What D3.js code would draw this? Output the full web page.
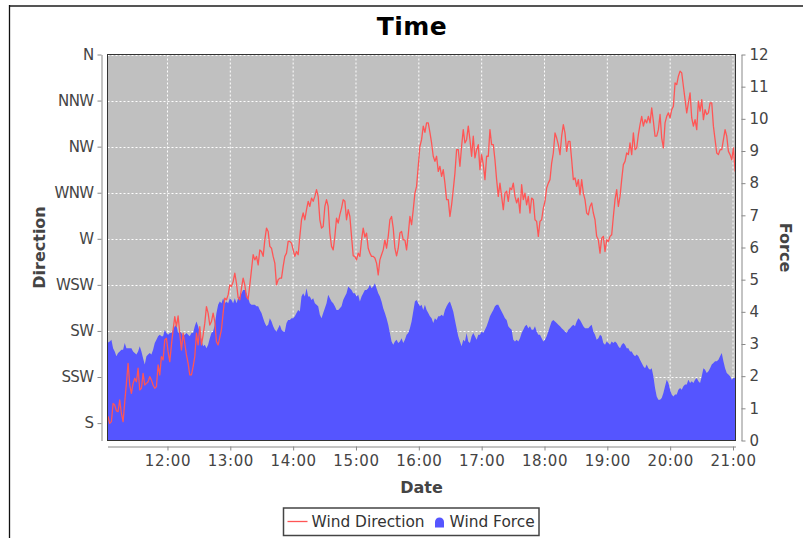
<!DOCTYPE html>
<html>
<head>
<meta charset="utf-8">
<script src="https://cdn.jsdelivr.net/npm/d3@7"></script>
<style>
  html, body { margin: 0; padding: 0; background: #ffffff; }
  svg { display: block; font-family: "DejaVu Sans", sans-serif; }
</style>
</head>
<body>
<svg id="chart" width="803" height="538"></svg>
<script>
// ---------------- data ----------------
const chartTitle = "Time";
const seriesNames = ["Wind Direction", "Wind Force"];
const sampleStart = "2024-01-01T11:01:41";   // first reading
const sampleStepSeconds = 95.54;              // one reading every ~1.6 minutes

// wind direction, degrees (S = 180, N = 360)
const windDirection = [
  183.1,183.1,179.9,180.7,189.6,188.8,186.0,185.6,191.3,184.7,
  180.7,190.4,199.4,209.2,198.6,194.5,199.4,201.9,200.2,206.8,
  196.2,197.0,204.3,198.6,199.4,200.2,202.7,201.0,198.6,197.0,
  197.8,208.4,203.5,212.5,210.8,220.6,221.4,214.9,210.0,218.2,
  225.5,232.0,227.1,232.3,223.9,215.7,223.9,219.0,213.3,209.2,
  203.5,203.5,207.6,212.5,223.9,218.2,227.1,218.2,223.0,228.8,
  236.9,233.7,227.9,229.6,233.7,229.6,219.8,218.2,221.9,225.8,
  233.7,241.0,240.2,242.6,247.5,246.7,249.1,253.2,248.3,241.3,
  240.2,245.9,250.8,247.5,241.8,240.5,247.5,254.8,262.2,259.7,
  261.4,257.3,264.6,263.8,261.4,269.5,275.2,273.6,266.3,265.4,
  261.4,258.1,247.5,250.0,250.8,250.8,256.5,261.4,263.0,268.7,
  268.7,267.9,264.6,261.4,263.8,262.2,
  271.2,279.3,282.6,279.3,284.2,288.3,285.8,289.9,288.3,290.7,
  294.0,290.7,279.3,275.2,276.0,285.8,289.1,285.8,272.8,266.3,
  264.6,271.2,280.1,277.7,281.8,285.0,289.1,288.3,279.3,284.2,
  280.9,271.2,261.7,261.4,259.7,263.0,261.4,269.5,275.2,270.8,
  272.8,265.4,263.0,261.4,261.4,260.6,258.1,252.4,259.7,262.2,
  264.6,269.5,265.4,271.2,279.3,280.9,275.2,265.4,261.7,265.4,
  272.8,273.6,269.5,269.5,264.6,272.0,280.9,276.9,284.2,292.3,
  295.6,305.4,315.2,318.4,325.0,322.0,326.6,326.6,322.0,316.8,
  310.3,307.8,310.3,302.9,305.4,300.5,303.8,297.2,289.1,289.1,
  280.9,286.6,294.0,302.1,313.5,313.5,305.4,315.2,323.3,316.8,
  318.4,325.0,318.4,310.3,320.1,309.5,313.5,316.0,303.8,311.1,
  306.2,298.9,310.3,310.3,323.3,316.0,316.0,308.6,298.9,290.7,
  297.2,290.7,284.2,292.3,293.2,288.3,294.8,294.0,297.2,290.7,
  287.5,289.9,282.6,296.4,289.1,292.3,286.6,290.7,282.6,289.9,
  289.1,279.3,278.5,271.2,278.5,279.3,285.0,288.3,294.8,297.2,
  298.9,307.0,311.9,321.7,319.2,316.0,311.1,320.1,325.8,321.7,
  312.7,317.6,317.6,308.6,298.9,299.7,295.6,298.9,291.5,298.9,
  292.3,289.1,282.6,281.7,285.8,287.5,282.6,279.3,271.2,269.5,
  263.0,270.3,271.2,263.8,269.5,268.7,271.2,272.0,280.9,289.1,
  294.0,285.8,290.7,298.9,306.2,307.8,311.9,311.1,316.8,311.1,
  321.7,313.5,314.4,320.9,325.8,329.8,325.0,328.2,326.6,329.8,
  326.6,333.9,327.4,320.1,320.1,323.3,330.7,319.2,314.4,326.6,
  329.8,331.5,329.0,333.1,334.7,346.1,345.3,349.4,351.9,351.0,
  344.5,338.0,331.5,336.4,341.3,329.0,325.0,328.2,323.3,337.2,
  332.3,338.0,328.2,333.1,330.7,331.5,336.4,336.4,325.0,318.4,
  311.9,311.1,313.5,313.5,318.4,323.3,320.1,312.7,311.1,308.6,
  314.4,302.9
];

// wind force (Beaufort)
const windForce = [
  2.98,3.05,3.08,3.13,2.87,2.77,2.62,2.72,2.77,2.82,
  2.82,3.03,2.87,2.87,2.87,2.87,2.77,2.72,2.67,2.77,
  2.93,2.77,2.56,2.36,2.62,2.67,2.72,2.67,2.82,3.03,
  3.13,3.24,3.29,3.24,3.24,3.44,3.34,3.29,3.34,3.34,
  3.44,3.55,3.60,3.34,3.39,3.34,3.24,3.29,3.34,3.29,
  3.24,3.34,3.34,3.55,3.70,3.55,3.34,3.13,2.93,2.98,
  2.87,2.98,3.18,3.34,3.39,3.60,3.96,4.22,4.32,4.27,
  4.42,4.27,4.32,4.27,4.42,4.37,4.27,4.42,4.27,4.42,
  4.48,4.58,4.68,4.68,4.58,4.42,4.27,4.22,4.22,4.22,
  4.17,4.17,4.06,3.96,3.80,3.65,3.55,3.60,3.80,3.70,
  3.55,3.44,3.39,3.49,3.60,3.44,3.39,3.39,3.65,3.75,
  3.75,3.80,3.80,3.86,3.96,4.06,
  4.01,4.48,4.58,4.48,4.73,4.48,4.48,4.37,4.42,4.27,
  4.22,4.17,3.91,3.80,3.96,4.11,4.27,4.53,4.42,4.32,
  4.27,4.17,4.06,4.06,4.11,4.17,4.37,4.48,4.58,4.79,
  4.73,4.68,4.58,4.58,4.48,4.53,4.32,4.48,4.58,4.68,
  4.68,4.73,4.84,4.73,4.79,4.89,4.73,4.58,4.48,4.32,
  4.11,3.96,3.80,3.60,3.34,3.08,2.98,3.08,3.13,3.03,
  3.08,3.18,3.03,3.13,3.29,3.34,3.49,3.70,4.01,4.32,
  4.37,4.27,4.17,4.22,4.06,4.22,4.06,3.96,3.86,3.80,
  3.65,3.80,3.75,3.86,3.86,3.91,3.86,4.06,4.17,4.27,
  4.32,4.17,4.01,3.75,3.49,3.24,3.08,2.93,3.13,3.08,
  3.34,3.08,3.03,3.24,3.34,3.24,3.13,3.29,3.29,3.39,
  3.34,3.44,3.55,3.70,3.86,3.96,4.06,4.17,4.22,4.22,
  4.11,4.01,3.91,3.80,3.75,3.55,3.49,3.44,3.13,3.08,
  3.13,3.08,3.18,3.34,3.44,3.55,3.60,3.49,3.55,3.44,
  3.44,3.55,3.39,3.29,3.29,3.18,3.08,3.13,3.24,3.39,
  3.55,3.70,3.75,3.70,3.65,3.60,3.55,3.49,3.44,3.39,
  3.34,3.44,3.49,3.55,3.60,3.55,3.70,3.80,3.75,3.65,
  3.55,3.49,3.49,3.49,3.55,3.60,3.39,3.29,3.13,3.18,
  3.29,3.24,3.03,2.98,3.08,3.03,2.98,3.08,3.03,3.08,
  3.03,2.93,2.87,2.98,3.03,2.98,2.87,2.87,2.77,2.77,
  2.67,2.62,2.67,2.62,2.51,2.41,2.31,2.25,2.36,2.25,
  2.20,2.25,2.00,1.63,1.37,1.27,1.27,1.32,1.48,1.69,
  1.89,1.79,1.58,1.43,1.37,1.43,1.43,1.58,1.63,1.58,
  1.69,1.74,1.74,1.89,1.79,1.84,1.79,1.89,1.94,1.84,
  1.79,2.00,2.25,2.20,2.10,2.15,2.25,2.36,2.41,2.46,
  2.46,2.51,2.62,2.72,2.46,2.25,2.10,2.05,2.00,1.89,
  1.94,1.94
];

const directionTickValues = [180, 202.5, 225, 247.5, 270, 292.5, 315, 337.5, 360];
const directionTickLabels = ["S", "SSW", "SW", "WSW", "W", "WNW", "NW", "NNW", "N"];
const forceTickValues = [0,1,2,3,4,5,6,7,8,9,10,11,12];
const directionDomain = [171.5, 360];
const forceDomain = [0, 12];
const timeDomain = ["2024-01-01T11:02:44", "2024-01-01T21:02:23"];

// ---------------- layout ----------------
const W = 803, H = 538;
const plot = { left: 107.5, right: 735.5, top: 54.5, bottom: 440.5 };
const colors = {
  plotBg: "#c0c0c0", grid: "#ffffff", area: "#5555ff", line: "#ff5555",
  axis: "#888888", tickText: "#444444", label: "#444444"
};

const parse = s => new Date(s);
const t0 = parse(sampleStart).getTime();
const data = windDirection.map((d, i) => ({
  t: new Date(t0 + i * sampleStepSeconds * 1000),
  dir: d,
  force: windForce[i]
}));

const svg = d3.select("#chart");

const x = d3.scaleTime().domain(timeDomain.map(parse)).range([plot.left, plot.right]);
const yDir = d3.scaleLinear().domain(directionDomain).range([plot.bottom, plot.top]);
const yForce = d3.scaleLinear().domain(forceDomain).range([plot.bottom, plot.top]);

// outer frame (partial, as in the reference)
svg.append("line").attr("x1", 9).attr("x2", W).attr("y1", 6).attr("y2", 6)
  .attr("stroke", "#555").attr("stroke-width", 2);
svg.append("line").attr("x1", 9.5).attr("x2", 9.5).attr("y1", 5).attr("y2", H)
  .attr("stroke", "#111").attr("stroke-width", 1.3);

// title
svg.append("text").attr("x", 412).attr("y", 35).attr("text-anchor", "middle")
  .attr("font-size", 25).attr("font-weight", "bold").attr("fill", "#000")
  .attr("letter-spacing", 0.5)
  .text(chartTitle);

// plot background
svg.append("rect").attr("x", plot.left).attr("y", plot.top)
  .attr("width", plot.right - plot.left).attr("height", plot.bottom - plot.top)
  .attr("fill", colors.plotBg);

svg.append("clipPath").attr("id", "clip").append("rect")
  .attr("x", plot.left).attr("y", plot.top)
  .attr("width", plot.right - plot.left).attr("height", plot.bottom - plot.top);

const hourTicks = x.ticks(d3.timeHour.every(1));

// gridlines
const grid = svg.append("g").attr("clip-path", "url(#clip)");
grid.selectAll("line.v").data(hourTicks).join("line")
  .attr("x1", d => x(d)).attr("x2", d => x(d))
  .attr("y1", plot.top).attr("y2", plot.bottom)
  .attr("stroke", colors.grid).attr("stroke-width", 1).attr("stroke-dasharray", "2,2");
grid.selectAll("line.h").data(directionTickValues).join("line")
  .attr("x1", plot.left).attr("x2", plot.right)
  .attr("y1", d => Math.round(yDir(d)) + 0.5).attr("y2", d => Math.round(yDir(d)) + 0.5)
  .attr("stroke", colors.grid).attr("stroke-width", 1).attr("stroke-dasharray", "2,2");

// series
const series = svg.append("g").attr("clip-path", "url(#clip)");
series.append("path").datum(data)
  .attr("fill", colors.area)
  .attr("d", d3.area().x(d => x(d.t)).y0(yForce(0)).y1(d => yForce(d.force)));
series.append("path").datum(data)
  .attr("fill", "none").attr("stroke", colors.line).attr("stroke-width", 1.3)
  .attr("stroke-linejoin", "round")
  .attr("d", d3.line().x(d => x(d.t)).y(d => yDir(d.dir)));

// plot outline
svg.append("rect").attr("x", plot.left).attr("y", plot.top)
  .attr("width", plot.right - plot.left).attr("height", plot.bottom - plot.top)
  .attr("fill", "none").attr("stroke", "#333").attr("stroke-width", 1);

function styleAxis(g) {
  g.select(".domain").attr("stroke", colors.axis);
  g.selectAll(".tick line").attr("stroke", colors.axis);
  g.selectAll(".tick text").attr("fill", colors.tickText)
    .attr("font-size", 15).attr("font-family", "DejaVu Sans, sans-serif");
}

// left axis (direction)
const leftAxis = svg.append("g").attr("transform", "translate(101.5,0)")
  .call(d3.axisLeft(yDir).tickValues(directionTickValues)
    .tickFormat((d, i) => directionTickLabels[i]).tickSize(4).tickSizeOuter(0).tickPadding(4));
styleAxis(leftAxis);
leftAxis.selectAll(".tick text").attr("letter-spacing", -0.6);

// right axis (force)
const rightAxis = svg.append("g").attr("transform", "translate(741.5,0)")
  .call(d3.axisRight(yForce).tickValues(forceTickValues).tickFormat(d3.format("d"))
    .tickSize(4).tickSizeOuter(0).tickPadding(4));
styleAxis(rightAxis);

// bottom axis (time)
const bottomAxis = svg.append("g").attr("transform", "translate(0,446.5)")
  .call(d3.axisBottom(x).tickValues(hourTicks).tickFormat(d3.timeFormat("%H:%M"))
    .tickSize(4).tickSizeOuter(0).tickPadding(5));
styleAxis(bottomAxis);
bottomAxis.selectAll(".tick text").attr("letter-spacing", 0.6);

// axis labels
svg.append("text").attr("transform", "translate(45,247.5) rotate(-90)")
  .attr("text-anchor", "middle").attr("font-size", 16).attr("font-weight", "bold")
  .attr("fill", colors.label).text("Direction");
svg.append("text").attr("transform", "translate(779.5,247.5) rotate(90)")
  .attr("text-anchor", "middle").attr("font-size", 16).attr("font-weight", "bold")
  .attr("fill", colors.label).text("Force");
svg.append("text").attr("x", 421.5).attr("y", 493)
  .attr("text-anchor", "middle").attr("font-size", 16).attr("font-weight", "bold")
  .attr("fill", colors.label).text("Date");

// legend
const lg = svg.append("g");
lg.append("rect").attr("x", 283.5).attr("y", 508).attr("width", 255.5).attr("height", 27.5)
  .attr("fill", "#fff").attr("stroke", "#444").attr("stroke-width", 1.5);
lg.append("line").attr("x1", 287.5).attr("x2", 307.5).attr("y1", 521.5).attr("y2", 521.5)
  .attr("stroke", colors.line).attr("stroke-width", 1.3);
lg.append("text").attr("x", 311.5).attr("y", 527).attr("font-size", 15.4)
  .attr("fill", "#333").text(seriesNames[0]);
lg.append("path")
  .attr("d", "M435,527.5 L435,522 A4.5,4.5 0 0 1 444,522 L444,527.5 Z")
  .attr("fill", colors.area);
lg.append("text").attr("x", 449.5).attr("y", 527).attr("font-size", 15.4)
  .attr("fill", "#333").text(seriesNames[1]);
</script>
</body>
</html>
